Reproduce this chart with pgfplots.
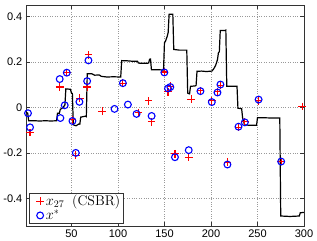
\documentclass[border=0pt]{standalone}
\usepackage{fontspec}
\usepackage{pgfplots}
\pgfplotsset{compat=1.18}
\newfontfamily\ticksf{Liberation Sans}

\begin{document}
\begin{tikzpicture}
\begin{axis}[
  scale only axis, width=277.7pt, height=220.7pt,
  xmin=1, xmax=300, ymin=-0.52, ymax=0.45,
  xtick={50,100,150,200,250,300},
  xticklabels={50,100,150,200,250,300},
  ytick={-0.4,-0.2,0,0.2,0.4},
  yticklabels={-0.4,-0.2,0,0.2,0.4},
  ticklabel style={font=\ticksf\fontsize{11}{13}\selectfont},
  tick align=inside, major tick length=4pt,
  xtick pos=both, ytick pos=both,
  grid=major, grid style={dotted, gray!80, line width=0.5pt},
  axis line style={black!80, line width=0.5pt},
  tick style={black!80, line width=0.5pt},
  legend cell align=left,
  legend style={at={(axis description cs:0.011,0.012)}, anchor=south west,
    font=\fontsize{14}{15}\selectfont, draw=black!80, line width=0.5pt,
    inner xsep=1pt, inner ysep=0pt, row sep=-1.5pt},
  legend image code/.code={\path (0cm,0cm); \draw[#1] plot coordinates {(0.33cm,0cm)};},
]
\addplot[black, line width=1.2pt, forget plot] coordinates {
(1,-0.02) (3,-0.025) (4,-0.058) (10,-0.058) (16,-0.059) (22,-0.058) (28,-0.059) (34,-0.058)
(35,-0.025) (37,-0.025) (38,-0.008) (41,0.0) (43,0.012) (44,0.082) (49,0.080)
(50,0.063) (51,0.062) (52,-0.076) (55,-0.08) (58,-0.072) (59,-0.073)
(60,-0.042) (65,-0.038) (66,-0.04) (67,0.148) (72,0.148) (75,0.142) (80,0.143)
(82,0.137) (88,0.134) (95,0.135) (103,0.134) (104,0.206) (110,0.205) (116,0.203)
(121,0.203) (122,0.195) (128,0.194) (133,0.195) (134,0.212) (135,0.213)
(136,0.166) (142,0.166) (148,0.165) (149,0.165) (150,0.284) (151,0.29)
(153,0.313) (154,0.33) (155,0.409) (159,0.409) (160,0.255) (166,0.252) (174,0.252)
(175,0.063) (177,0.06) (178,0.093) (183,0.095) (184,0.097) (185,0.159) (190,0.16)
(195,0.158) (201,0.16) (203,0.17) (205,0.185) (207,0.21) (208,0.24) (209,0.245)
(210,0.338) (215,0.338) (216,0.34) (217,0.093) (223,0.093) (228,0.093)
(229,-0.003) (233,-0.005) (234,-0.045) (235,-0.057) (236,-0.076) (242,-0.078)
(249,-0.078) (250,-0.045) (258,-0.045) (266,-0.046) (274,-0.046)
(275,-0.476) (285,-0.478) (295,-0.476) (296,-0.462) (300,-0.46)
};
\addplot[only marks, mark=+, red, mark size=3.8pt, line width=1.1pt] coordinates {
(5.5,-0.110) (37.4,0.090) (45.0,0.154) (51.1,-0.054) (54.7,-0.209) (59.0,0.041)
(66.9,0.090) (68.3,0.231) (83.1,-0.016) (105.3,0.107) (122.2,-0.022) (133.0,0.029)
(136.2,-0.063) (149.9,0.156) (153.8,0.069) (156.3,0.094) (161.3,-0.203)
(176.1,-0.218) (178.6,0.037) (188.7,0.075) (200.9,0.029) (207.0,0.069)
(210.2,0.097) (217.7,-0.240) (229.6,-0.088) (236.4,-0.063) (251.2,0.029)
(275.5,-0.237) (298.1,0.004)
};
\addlegendentry{$x_{27}$\hspace{0.55em}(CSBR)}
\addplot[only marks, mark=o, blue, mark size=3.4pt, line width=1.1pt] coordinates {
(3.3,-0.025) (5.5,-0.087) (37.4,0.125) (38.1,-0.046) (42.8,0.010) (45.0,0.153)
(51.1,-0.059) (54.7,-0.199) (58.6,0.025) (66.9,0.116) (68.3,0.207) (96.3,-0.006)
(105.3,0.107) (110.7,0.013) (120.0,-0.028) (136.2,-0.037) (149.9,0.154)
(153.8,0.084) (156.3,0.090) (161.3,-0.218) (176.1,-0.187) (188.7,0.072)
(200.9,0.024) (207.0,0.066) (210.2,0.101) (217.7,-0.250) (229.6,-0.084)
(236.4,-0.065) (251.2,0.035) (275.5,-0.237)
};
\addlegendentry{$x^*$}
\end{axis}
\path ([yshift=5pt]current axis.north west);
\path ([xshift=13pt]current axis.south east);
\end{tikzpicture}
\end{document}
